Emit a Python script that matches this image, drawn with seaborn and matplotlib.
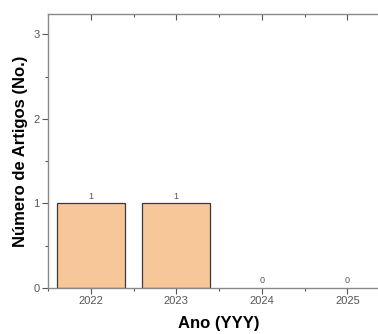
import matplotlib
matplotlib.use("Agg")
import matplotlib.pyplot as plt
import seaborn as sns
import pandas as pd
from matplotlib.ticker import MultipleLocator

# data
anos = ["2022", "2023", "2024", "2025"]
artigos = [1, 1, 0, 0]

df = pd.DataFrame({"Ano": anos, "Artigos": artigos})

sns.set_style("white")
plt.rcParams["font.family"] = ["Liberation Sans", "DejaVu Sans"]

fig = plt.figure(figsize=(3.78, 3.34), dpi=100)
ax = fig.add_axes([0.127, 0.138, 0.905, 0.82])

sns.barplot(data=df, x="Ano", y="Artigos", order=anos, color="#F8C799",
            width=0.8, edgecolor="#3a3a3a", linewidth=0.9, saturation=1, ax=ax)

# hide the outline of empty bars
for patch, v in zip(ax.patches, artigos):
    if v == 0:
        patch.set_linewidth(0)

# value labels on top of bars
for i, v in enumerate(artigos):
    ax.text(i, v + 0.03, str(v), ha="center", va="bottom", fontsize=6.5, color="#555555")

ax.set_xlim(-0.5, 3.5)
ax.set_ylim(0, 3.24)
ax.yaxis.set_major_locator(MultipleLocator(1))
ax.yaxis.set_minor_locator(MultipleLocator(0.5))
ax.xaxis.set_minor_locator(MultipleLocator(0.5))

spine_col = "#8a8a8a"
for s in ["left", "bottom", "top"]:
    ax.spines[s].set_visible(True)
    ax.spines[s].set_color(spine_col)
    ax.spines[s].set_linewidth(1.0)
ax.spines["right"].set_visible(False)

ax.tick_params(axis="both", which="major", direction="out", length=4, width=0.8,
               color="#555555", labelsize=8, labelcolor="#555555", pad=2)
ax.tick_params(axis="both", which="minor", direction="out", length=2, width=0.8,
               color="#555555")
ax.tick_params(axis="x", which="both", bottom=True, top=False)
ax.tick_params(axis="y", which="both", left=True, right=False)

# ticks on top spine pointing inward
top = ax.secondary_xaxis("top")
top.set_xticks([0, 1, 2, 3])
top.xaxis.set_minor_locator(MultipleLocator(0.5))
top.tick_params(which="major", direction="in", length=4, width=0.8, color="#555555",
                labeltop=False)
top.tick_params(which="minor", direction="in", length=2, width=0.8, color="#555555")
top.spines["top"].set_visible(False)

ax.set_xlabel("Ano (YYY)", fontsize=12, fontweight="bold", labelpad=7, color="black")
ax.set_ylabel("Número de Artigos (No.)", fontsize=12, fontweight="bold", labelpad=4,
              color="black")

fig.savefig("out.png", dpi=100)
